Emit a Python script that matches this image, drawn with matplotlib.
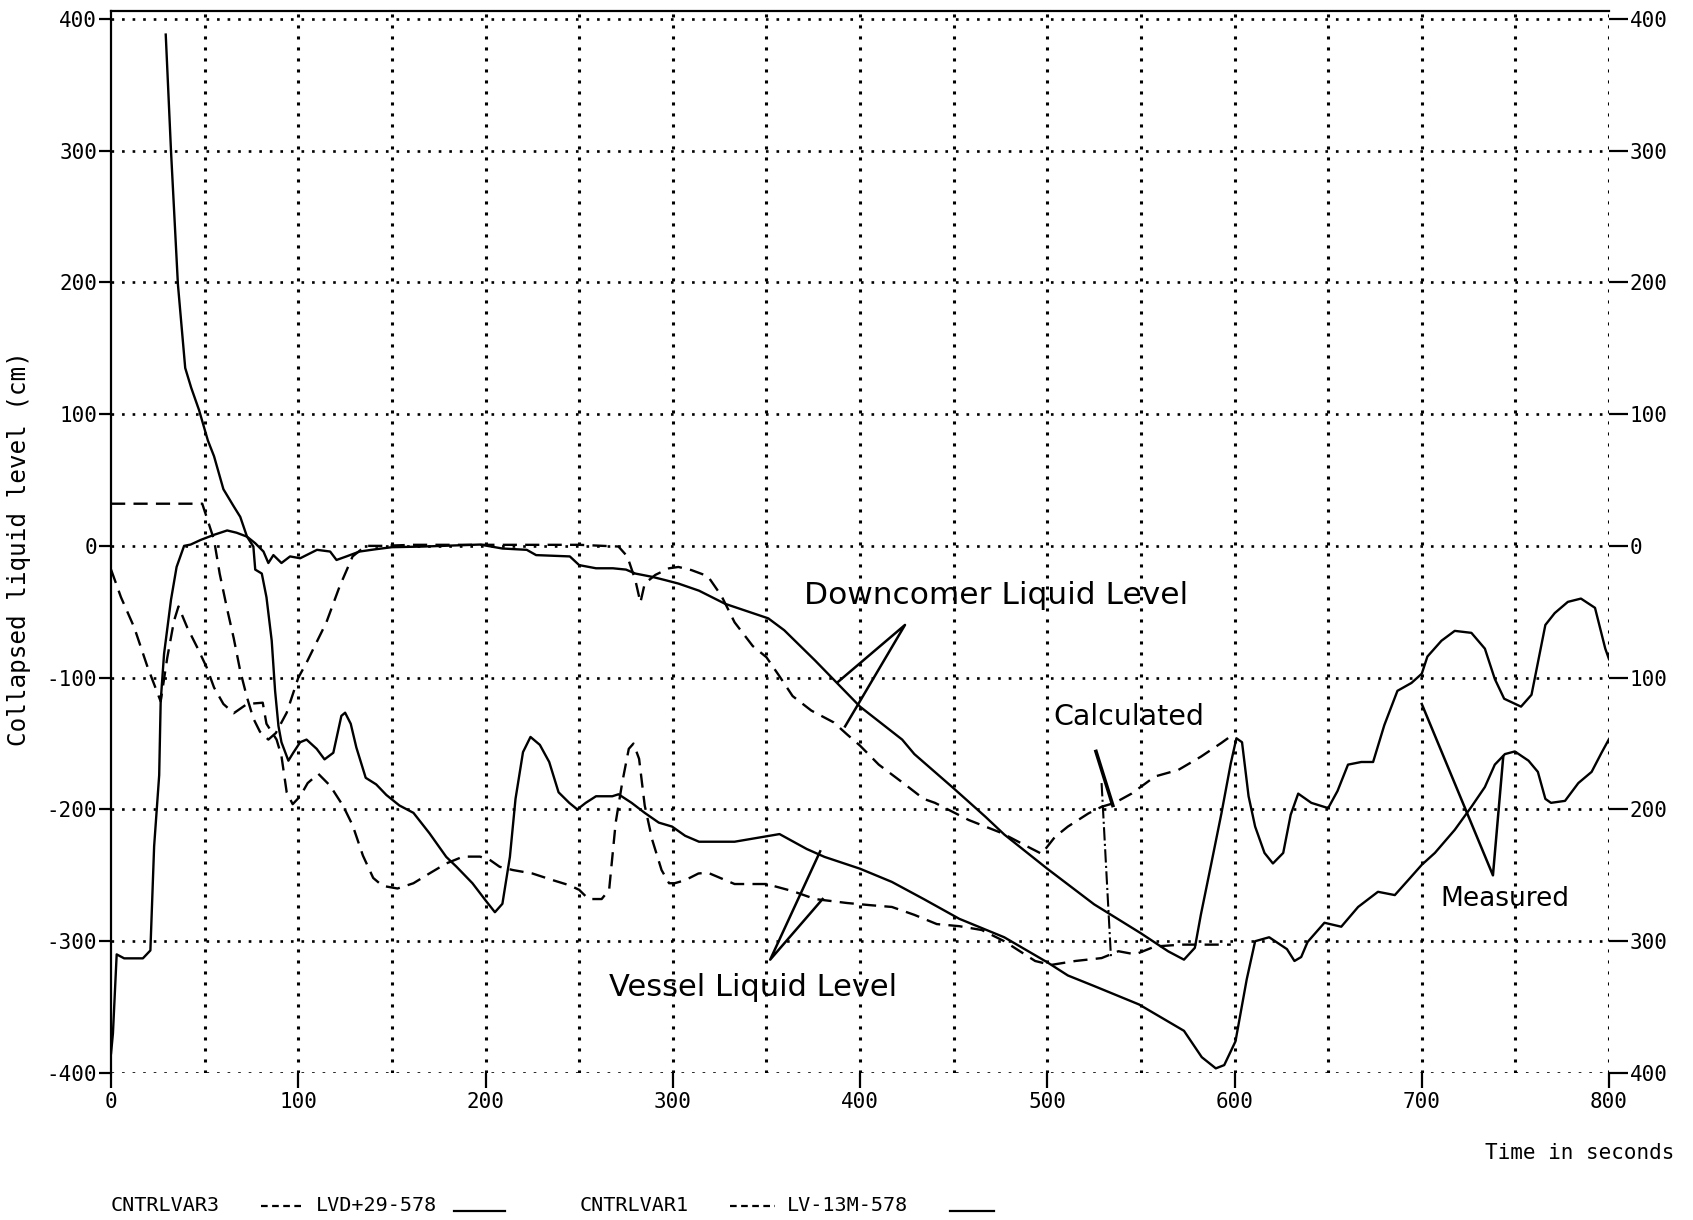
import numpy as np
import matplotlib as mpl
mpl.use("Agg")
import matplotlib.pyplot as plt
from matplotlib.lines import Line2D

# measured downcomer level (LVD+29-578), solid
t_lvd = [0, 1, 3, 7, 17, 21, 23, 25.7, 26.5, 28.3, 32, 35, 39, 42.5, 48, 55, 62, 67,
         72.6, 77, 81.4, 84, 86.7, 91, 95.6, 101, 110, 117, 120.4, 125.7, 132.7, 141.6,
         150, 167, 197, 209, 222, 227, 245, 250, 259, 268, 275, 280, 289, 296, 303, 314,
         328, 351, 359.5, 376, 400, 422.5, 429, 450, 467, 477, 500, 525, 550, 564.6, 573,
         578.8, 582, 587.6, 593, 598, 601, 604, 607.5, 611, 616, 620.5, 626, 630, 634,
         641, 650, 655, 660.6, 667.7, 674, 680, 687, 694.5, 700, 703, 710.5, 717.6,
         726.5, 733.7, 739, 744, 753, 758.6, 766, 771, 778, 785, 792.5, 798, 800]
y_lvd = [-385, -370, -310, -313, -313, -307, -228, -174, -118, -82, -41, -16, 0, 1,
         4.6, 8.4, 11.7, 10, 7, 2, -4.3, -13, -7, -13, -8, -9.4, -3, -4.3, -10.7, -8,
         -4.3, -2.5, -1, -0.5, 1, -2, -3, -7, -8, -14.6, -17, -17, -18, -21, -23.5, -26,
         -28.6, -34, -44, -55, -64, -87, -122, -147, -158, -184, -205.6, -219, -245,
         -272, -294, -307.7, -314, -305, -280, -241, -203, -165, -146, -149, -190, -213,
         -233, -241, -233, -204, -188, -195, -199, -186, -166, -164, -164, -136, -110,
         -104, -97, -84, -72, -64.5, -66, -78, -101, -116, -122, -113, -60, -51, -42.5,
         -40, -47, -78, -86]

# measured vessel level (LV-13M-578), solid
t_lv = [29.2, 32, 35.7, 39.6, 42.8, 47, 51.7, 55, 60, 65.5, 69, 72.6, 76, 77, 80.5, 83,
        85.8, 87.6, 89.4, 91, 94.7, 97.3, 101, 104.4, 109.8, 114, 118.7, 123, 125,
        128, 131, 136, 141.6, 147, 154, 161.5, 170, 179, 184.5, 193, 200, 205, 209, 213,
        216, 220, 224, 229, 234, 239, 244.7, 249, 253.5, 259, 267.7, 271, 278, 285,
        292.5, 299.6, 306.6, 314, 333, 345, 357, 371.5, 381, 400, 417, 434, 453, 477,
        500, 511, 525, 549, 573, 582.5, 590, 594.5, 600.5, 606.5, 611, 618.5, 628, 632,
        635.6, 639, 648, 657, 666, 676.6, 685.6, 692.7, 700, 707, 717.6, 726.5, 733.7,
        739, 744.4, 749.7, 757, 762, 766, 769, 776.5, 783.6, 790.7, 796, 800]
y_lv = [388, 300, 198.5, 135, 120, 103, 80, 68, 43, 30, 22, 7, -0.5, -18, -21, -39,
        -72, -110, -136.7, -149, -163, -157, -149, -147, -154, -162, -157, -129, -126.6,
        -135, -153, -176, -181, -189, -197, -202.6, -218, -236, -243.5, -256, -269, -278,
        -271.6, -236, -192, -156.5, -145, -151, -164, -187, -195, -200, -195, -190, -190,
        -188.5, -195, -202.6, -210, -213, -220, -224.5, -224.5, -221.6, -218.7, -230,
        -236, -245, -255, -268, -283, -297, -316, -326, -334, -348, -368, -388, -396.5,
        -394, -376, -329, -300, -297, -306, -315, -312, -300.6, -286, -289, -274,
        -262.5, -265, -253.7, -242, -233, -215.5, -198, -183, -166, -158, -156, -163,
        -171.5, -192, -195, -193.5, -180, -171.5, -157, -146.6]

# calculated downcomer level (CNTRLVAR3), dashed
t_cv3 = [0, 48.7, 51, 55, 58, 62, 65.5, 69, 72.6, 76, 79.5, 84, 88, 93.8, 100, 104.4,
         109.8, 115, 122, 129, 136, 144, 161.5, 214.6, 250, 271, 275.7, 280, 282.7, 285,
         290.7, 298, 303, 310, 318.7, 326, 333, 342.7, 350, 357, 364, 374, 386, 393, 400,
         410, 424, 434, 440, 458, 475.8, 490, 497, 504, 511, 522, 529, 536, 545, 557.5,
         570, 582, 593, 598]
y_cv3 = [32, 32, 22, 4.6, -21, -48, -70, -95, -115, -131, -141, -147, -142, -126.6,
         -100, -88.6, -73, -58, -31, -8, 0, 0, 0.8, 0.8, 0.8, -0.5, -8, -26, -43, -28.6,
         -22, -17, -16, -18.4, -23, -38, -58, -76, -84.5, -99, -114, -125, -134, -143,
         -151.6, -166, -181, -192, -195, -208, -218, -228.6, -233.7, -221, -213, -203,
         -198, -195, -188, -175, -170, -160, -149.5, -144.4]

# calculated vessel level (CNTRLVAR1), dashed
t_cv1 = [0, 5.3, 12.4, 19.5, 26.5, 30, 33.6, 36, 40.7, 46, 51, 55, 60, 65.5, 72.6, 81,
         83, 88.4, 91, 93.8, 97, 101, 105, 110.7, 117, 124, 129, 134.5, 140, 145, 153,
         161.5, 170, 179, 188, 197, 202, 207.5, 214.6, 225, 236, 244.7, 250, 255, 262,
         266, 269.5, 273, 276.5, 279, 282, 285, 289, 294, 298, 301, 306.6, 313.7, 318.7,
         333, 350, 364, 376, 393, 405, 417, 429, 441, 453, 465, 477, 493.5, 502, 515,
         529, 538, 547, 557.5, 571.7, 586, 598]
y_cv1 = [-18, -39, -62, -92, -118, -85, -57, -46, -62, -77, -92, -107.5, -120, -127,
         -120, -119, -135, -147, -159.5, -187, -196, -190, -180, -173, -182, -197.5, -212,
         -235, -252, -258, -260, -256, -248.6, -241, -235.8, -235.8, -238, -243.5, -246,
         -248.6, -253.7, -257.5, -261, -268, -268, -261, -210, -179.5, -154, -150,
         -161.6, -197, -223, -246, -256, -256, -253.7, -248.6, -248, -256.6, -256.6, -262,
         -268, -271, -272.6, -274, -280, -287, -288.6, -291.5, -300, -315, -318, -315,
         -312.8, -307.6, -310, -304, -302.6, -302.6, -302.6]

x_ticks = [0, 100, 200, 300, 400, 500, 600, 700, 800]
y_ticks = [-400, -300, -200, -100, 0, 100, 200, 300, 400]
x_labels = ["0", "100", "200", "300", "400", "500", "600", "700", "800"]
y_labels_left = ["-400", "-300", "-200", "-100", "0", "100", "200", "300", "400"]
y_labels_right = ["400", "300", "200", "100", "0", "100", "200", "300", "400"]

legend_names = ["CNTRLVAR3", "LVD+29-578", "CNTRLVAR1", "LV-13M-578"]

mono = "DejaVu Sans Mono"
hand = "DejaVu Sans"
dash = (0, (6, 3.5))

fig = plt.figure(figsize=(16.93, 12.2), dpi=100)
ax = fig.add_axes([0.0656, 0.1205, 0.8848, 0.8706])

# grid
for gx in np.arange(50, 801, 50):
    ax.axvline(gx, color="black", linestyle=(0, (1, 2.6)), linewidth=2.2, zorder=1)
for gy in y_ticks:
    ax.axhline(gy, color="black", linestyle=(0, (1, 3.0)), linewidth=1.9, zorder=1)

lw = 1.7
ax.plot(t_lvd, y_lvd, color="black", linewidth=lw, zorder=3)
ax.plot(t_lv, y_lv, color="black", linewidth=lw, zorder=3)
ax.plot(t_cv3, y_cv3, color="black", linewidth=lw, linestyle=dash, zorder=3)
ax.plot(t_cv1, y_cv1, color="black", linewidth=lw, linestyle=dash, zorder=3)

ax.set_xlim(0, 800)
ax.set_ylim(-400, 406)

for s in ["bottom", "right"]:
    ax.spines[s].set_visible(False)
ax.spines["left"].set_linewidth(1.6)
ax.spines["top"].set_linewidth(1.6)

ax.set_xticks(x_ticks)
ax.set_xticklabels(x_labels, family=mono, fontsize=15)
ax.set_yticks(y_ticks)
ax.set_yticklabels(y_labels_left, family=mono, fontsize=15)
ax.tick_params(axis="x", direction="out", length=11, width=1.6, pad=3)
ax.tick_params(axis="y", direction="out", length=9, width=1.6, pad=1)

ax2 = ax.twinx()
ax2.set_ylim(ax.get_ylim())
ax2.set_yticks(y_ticks)
ax2.set_yticklabels(y_labels_right, family=mono, fontsize=15)
ax2.tick_params(axis="y", direction="out", length=14, width=1.6, pad=1)
for s in ax2.spines.values():
    s.set_visible(False)

# handwritten notes
note = dict(family=hand, color="black", va="center", ha="left")
ax.text(370, -38, "Downcomer Liquid Level", fontsize=22.5, **note)
ax.text(266, -335, "Vessel Liquid Level", fontsize=22, **note)
ax.text(503, -130, "Calculated", fontsize=20.5, **note)
ax.text(710, -268, "Measured", fontsize=19, **note)

pk = dict(color="black", linewidth=1.8, zorder=4)
ax.plot([388, 424, 392], [-103.5, -60, -137], **pk)
ax.plot([378.7, 352, 380], [-231.8, -314, -268], **pk)
ax.plot([700, 738, 743.5], [-120, -250, -160], **pk)
ax.plot([526, 535], [-156, -197], color="black", linewidth=2.6, zorder=4)
ax.plot([529, 534], [-180, -312], color="black", linewidth=1.5, linestyle="-.", zorder=4)

# axis titles
fig.text(0.0115, 0.55, "Collapsed liquid level (cm)", rotation=90, family=mono,
         fontsize=17.5, ha="center", va="center")
fig.text(0.989, 0.055, "Time in seconds", family=mono, fontsize=15, ha="right",
         va="center")

# legend row at the bottom
ly = 0.0115
lt = dict(family=mono, fontsize=14.5, va="center")
fig.text(0.0656, ly, legend_names[0], **lt)
fig.lines.append(Line2D([0.154, 0.180], [ly, ly], transform=fig.transFigure,
                        color="black", linewidth=1.6, linestyle=(0, (3, 2))))
fig.text(0.1866, ly, legend_names[1], **lt)
fig.lines.append(Line2D([0.268, 0.298], [ly - 0.004, ly - 0.004],
                        transform=fig.transFigure, color="black", linewidth=1.6))
fig.text(0.3426, ly, legend_names[2], **lt)
fig.lines.append(Line2D([0.431, 0.458], [ly, ly], transform=fig.transFigure,
                        color="black", linewidth=1.6, linestyle=(0, (3, 2))))
fig.text(0.4648, ly, legend_names[3], **lt)
fig.lines.append(Line2D([0.561, 0.587], [ly - 0.004, ly - 0.004],
                        transform=fig.transFigure, color="black", linewidth=1.6))

fig.savefig("out.png", dpi=100)
